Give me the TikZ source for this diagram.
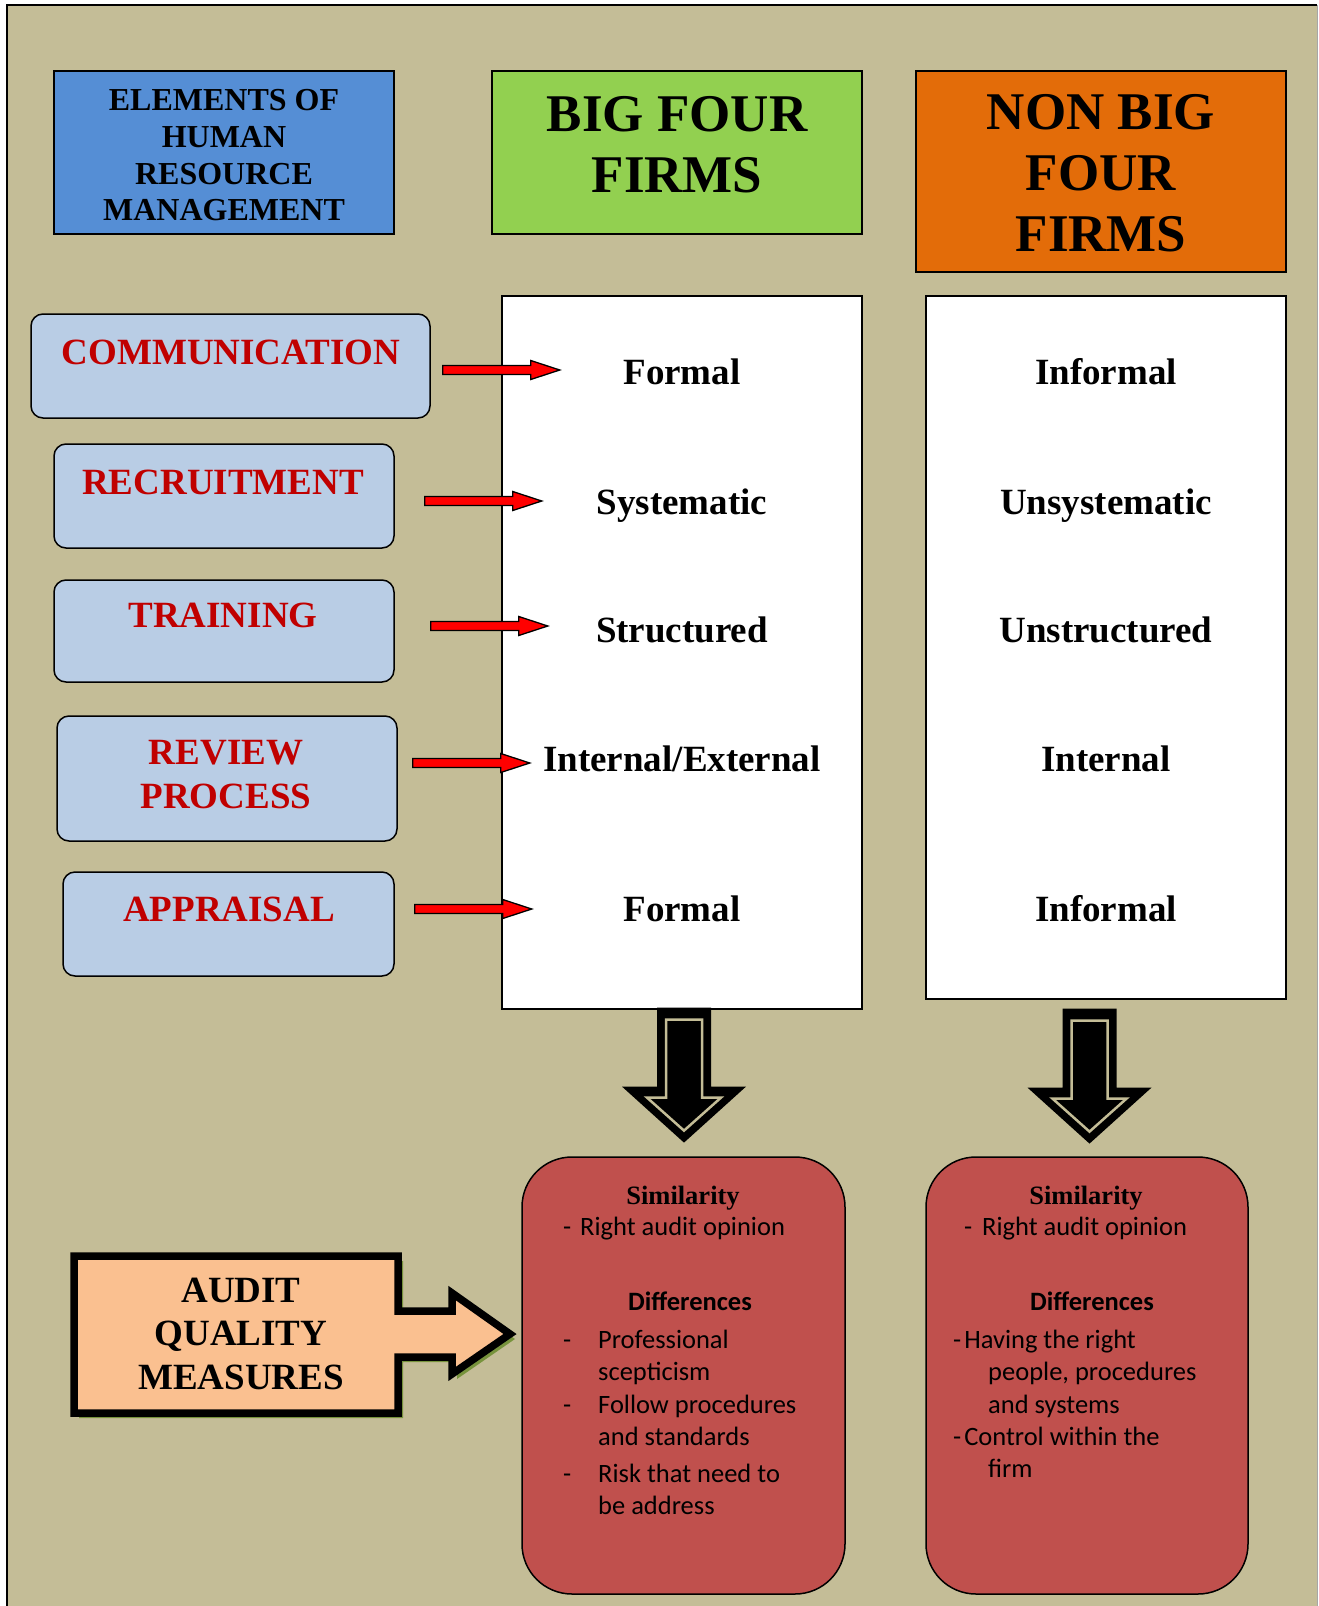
\documentclass[tikz,border=0pt]{standalone}
\usepackage{fontspec}
\setmainfont{Liberation Serif}
\newfontfamily\calibri{Carlito}
\usetikzlibrary{calc}
\definecolor{bgtan}{RGB}{196, 189, 151}
\definecolor{elemblue}{RGB}{85, 142, 213}
\definecolor{biggreen}{RGB}{146, 208, 80}
\definecolor{nborange}{RGB}{227, 108, 9}
\definecolor{elblue}{RGB}{185, 205, 229}
\definecolor{elred}{RGB}{192, 0, 0}
\definecolor{resred}{RGB}{192, 80, 77}
\definecolor{auditpeach}{RGB}{250, 192, 144}
\definecolor{shadowolive}{RGB}{119, 147, 60}

\begin{document}
\begin{tikzpicture}[
  x=1pt, y=-1pt,
  every node/.style={inner sep=0pt},
  hdr/.style={draw=black, line width=1.5, align=center},
  hdrtxt/.style={font=\fontsize{53}{61}\selectfont\bfseries, align=center},
  elbox/.style={draw=black, line width=1.5, rounded corners=12, fill=elblue},
  eltxt/.style={font=\fontsize{37}{44}\selectfont\bfseries, text=elred, align=center},
  colbox/.style={draw=black, line width=1.2, fill=white},
  coltxt/.style={font=\fontsize{37}{44}\selectfont\bfseries, anchor=base},
  resbox/.style={draw=black, line width=1.5, rounded corners=50, fill=resred},
  listtxt/.style={font=\calibri\fontsize{26.5}{32}\selectfont, anchor=base west},
  simtxt/.style={font=\fontsize{26.5}{32}\selectfont\bfseries, anchor=base},
  difftxt/.style={font=\calibri\fontsize{26.5}{32}\selectfont\bfseries, anchor=base},
  redarrow/.pic={\draw[fill=red, line width=1.3] (0,-4.5) -- (88,-4.5) -- (88,-9.5) -- (117,0) -- (88,9.5) -- (88,4.5) -- (0,4.5) -- cycle;},
  blockdown/.pic={
    \fill[black] (-27,0) -- (27,0) -- (27,79) -- (62,79) -- (0,135) -- (-62,79) -- (-27,79) -- cycle;
    \draw[bgtan, line width=2.5, fill=black] (-18,12) -- (18,12) -- (18,90) -- (37,90) -- (0,123) -- (-37,90) -- (-18,90) -- cycle;}
]
\useasboundingbox (0,0) rectangle (1319,1606);
% background sheet
\fill[bgtan] (7,5) rectangle (1317,1610);
\draw[line width=2] (7,1610) -- (7,5) -- (1317,5);
\draw[gray!70, line width=0.8] (1317,5) -- (1317,1610);

% column headers
\node[hdr, fill=elemblue, minimum width=340, minimum height=163] (elem) at (224,152.5) {};
\node[font=\fontsize{32}{36.7}\selectfont\bfseries, align=center] (elemtxt) at ([yshift=-3]elem.center) {ELEMENTS OF\\HUMAN\\RESOURCE\\MANAGEMENT};
\node[hdr, fill=biggreen, minimum width=370, minimum height=163] (bigfour) at (677,152.5) {};
\node[hdrtxt] (bigfourtxt) at ([yshift=8]bigfour.center) {BIG FOUR\\FIRMS};
\node[hdr, fill=nborange, minimum width=370, minimum height=201] (nbfour) at (1101,171.5) {};
\node[hdrtxt] (nbfourtxt) at ([yshift=-2]nbfour.center) {NON BIG\\FOUR\\FIRMS};

% elements of HRM
\node[elbox, minimum width=399, minimum height=104] (comm) at (230.5,366) {};
\node[eltxt] (commtxt) at (231,352) {COMMUNICATION};
\node[elbox, minimum width=340, minimum height=104] (rec) at (224,496) {};
\node[eltxt] (rectxt) at (223,482) {RECRUITMENT};
\node[elbox, minimum width=340, minimum height=102] (train) at (224,631) {};
\node[eltxt] (traintxt) at (223,615.5) {TRAINING};
\node[elbox, minimum width=340, minimum height=125] (review) at (227,778.5) {};
\node[eltxt] (reviewtxt) at (226,775) {REVIEW\\PROCESS};
\node[elbox, minimum width=331, minimum height=104] (appr) at (228.5,924) {};
\node[eltxt] (apprtxt) at (229,909) {APPRAISAL};

% firm columns
\node[colbox, minimum width=360, minimum height=713] (bigcol) at (682,652.5) {};
\node[colbox, minimum width=360, minimum height=703] (nbcol) at (1106,647.5) {};
\foreach \big/\nonbig/\yy [count=\i] in {Formal/Informal/384, Systematic/Unsystematic/514, Structured/Unstructured/642, Internal\slash External/Internal/771, Formal/Informal/921} {
  \node[coltxt] (bigv\i) at (682,\yy) {\big};
  \node[coltxt] (nbv\i) at (1106,\yy) {\nonbig};
}

% red arrows
\pic at ($(comm.east)+(12,4)$) {redarrow};
\pic at ($(rec.east)+(30,5)$) {redarrow};
\pic at ($(train.east)+(36,-5)$) {redarrow};
\pic at ($(review.east)+(15,-15.5)$) {redarrow};
\pic at ($(appr.east)+(20,-15)$) {redarrow};

% block arrows down
\pic at ($(bigcol.south)+(2,-2)$) {blockdown};
\pic at ($(nbcol.south)+(-16.5,9)$) {blockdown};

% audit quality measures
\fill[shadowolive] (79,1261) -- (403,1261) -- (403,1316) -- (457,1316) -- (457,1298) -- (515,1339) -- (457,1379) -- (457,1362) -- (403,1362) -- (403,1418) -- (79,1418) -- cycle;
\draw[fill=auditpeach, line width=7.5, line join=miter] (74,1256) -- (398,1256) -- (398,1311) -- (452,1311) -- (452,1293) -- (510,1334) -- (452,1374) -- (452,1357) -- (398,1357) -- (398,1413) -- (74,1413) -- cycle;
\node[font=\fontsize{37}{43.5}\selectfont\bfseries, align=center] (audit) at (241,1333.5) {AUDIT\\QUALITY\\MEASURES};

% results
\node[resbox, minimum width=323, minimum height=437] (bigres) at (683.5,1375.5) {};
\node[resbox, minimum width=322, minimum height=437] (nbres) at (1087,1375.5) {};
\node[simtxt] (bigsim) at (683,1204) {Similarity};
\node[listtxt] (bigsimd) at (563,1235) {-};
\node[listtxt] (bigsiml) at (580,1235) {Right audit opinion};
\node[difftxt] (bigdiff) at (690,1310) {Differences};
\foreach \yy [count=\i] in {1348, 1413, 1482}
  \node[listtxt] (bigd\i) at (563,\yy) {-};
\foreach \txt/\yy [count=\i] in {Professional/1348, scepticism/1380, Follow procedures/1413, and standards/1445, Risk that need to/1482, be address/1514}
  \node[listtxt] (bigl\i) at (598,\yy) {\txt};

\node[simtxt] (nbsim) at (1086,1204) {Similarity};
\node[listtxt] (nbsimd) at (964,1235) {-};
\node[listtxt] (nbsiml) at (982,1235) {Right audit opinion};
\node[difftxt] (nbdiff) at (1092,1310) {Differences};
\node[listtxt] (nbl1) at (953,1348) {-\kern3pt Having the right};
\node[listtxt] (nbl2) at (988,1380) {people, procedures};
\node[listtxt] (nbl3) at (988,1413) {and systems};
\node[listtxt] (nbl4) at (953,1445) {-\kern3pt Control within the};
\node[listtxt] (nbl5) at (988,1477) {firm};
\end{tikzpicture}
\end{document}
